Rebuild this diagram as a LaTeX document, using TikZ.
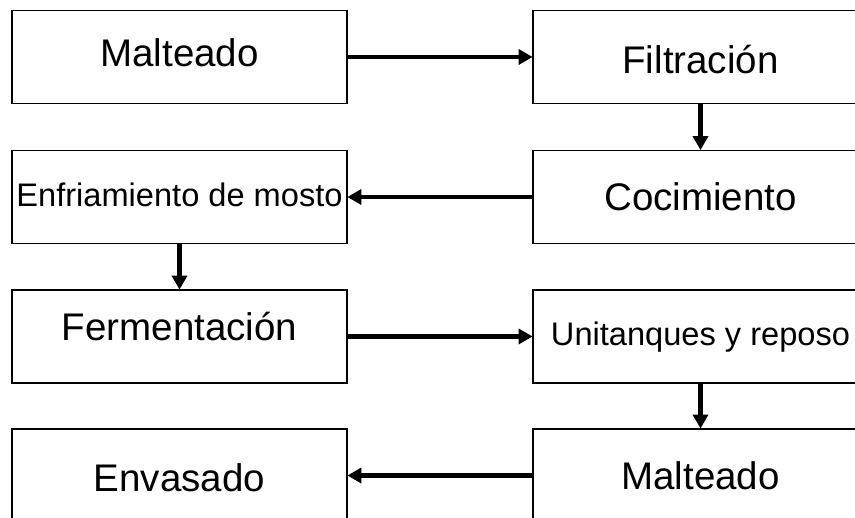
\documentclass[tikz,border=0pt]{standalone}
\usepackage{fontspec}
\setmainfont{Liberation Sans}
\usetikzlibrary{arrows.meta}
\tikzset{
  stepbox/.style={draw=black, line width=1.8pt, rectangle, minimum width=335pt, minimum height=93pt, inner sep=0pt, align=center},
  bigtxt/.style={font=\fontsize{38.5pt}{40pt}\selectfont, text height=27.6pt, text depth=0pt},
  smalltxt/.style={font=\fontsize{32.6pt}{34pt}\selectfont, text height=23.3pt, text depth=0pt},
  tup/.style={text depth=2*#1},
  flow/.style={line width=4.6pt, -{Triangle[length=14pt,width=15pt]}, shorten >=-0.5pt}
}
\begin{document}
\begin{tikzpicture}[x=1pt,y=1pt]
\useasboundingbox (0,0) rectangle (855,518);
\fill[white] (0,0) rectangle (855,518);
\clip (0,0) rectangle (855,518);
\node[stepbox, bigtxt, tup=4.5pt] (m1) at (179.5,461) {Malteado};
\node[stepbox, bigtxt, text height=33.6pt] (fil) at (700.5,461) {Filtración};
\node[stepbox, bigtxt] (coc) at (700.5,321) {Cocimiento};
\node[stepbox, smalltxt, tup=2.5pt] (enf) at (179.5,321) {Enfriamiento de mosto};
\node[stepbox, bigtxt, tup=10pt] (fer) at (179.5,181.5) {Fermentación};
\node[stepbox, smalltxt, tup=2.5pt] (uni) at (700.5,181.5) {Unitanques y reposo};
\node[stepbox, bigtxt] (m2) at (700.5,42.5) {Malteado};
\node[stepbox, bigtxt, text height=31.6pt] (env) at (179.5,42.5) {Envasado};
\draw[flow] (m1.east) -- (fil.west);
\draw[flow] (fil.south) -- (coc.north);
\draw[flow] (coc.west) -- (enf.east);
\draw[flow] (enf.south) -- (fer.north);
\draw[flow] (fer.east) -- (uni.west);
\draw[flow] (uni.south) -- (m2.north);
\draw[flow] (m2.west) -- (env.east);
\end{tikzpicture}
\end{document}
